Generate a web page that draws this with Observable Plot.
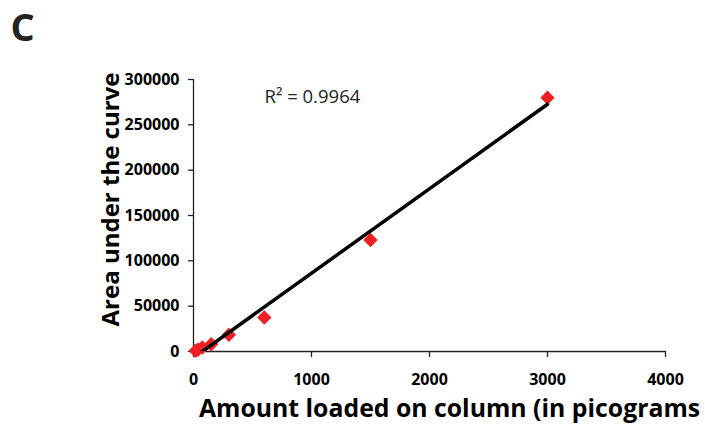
<!DOCTYPE html>
<html><head><meta charset="utf-8">
<script src="https://cdn.jsdelivr.net/npm/d3@7"></script>
<script src="https://cdn.jsdelivr.net/npm/@observablehq/plot@0.6"></script>
<style>body{margin:0;background:#fff} #chart{width:705px;height:434px}</style>
</head><body><div id="chart"></div>
<script>
const amounts = [18.75, 37.5, 75, 150, 300, 600, 1500, 3000];
const areas = [800, 2000, 4500, 8000, 18500, 37500, 123000, 280000];
const xTicks = [0, 1000, 2000, 3000, 4000];
const yTicks = [0, 50000, 100000, 150000, 200000, 250000, 300000];
const panelLabel = "C";
const xLabel = "Amount loaded on column (in picograms";
const yLabel = "Area under the curve";
const r2Label = "R\u00B2 = 0.9964";

const data = amounts.map((x, i) => ({x, y: areas[i]}));
const font = "'Open Sans', sans-serif";

const chart = Plot.plot({
  width: 705, height: 434,
  marginLeft: 193, marginRight: 40, marginTop: 79, marginBottom: 83,
  style: {fontFamily: font, fontSize: "16px", background: "#fff", color: "#000", overflow: "visible"},
  x: {domain: [0, 4000]},
  y: {domain: [0, 300000]},
  marks: [
    Plot.axisX(xTicks, {tickSize: 6, tickPadding: 16, tickFormat: d => String(d), fontSize: 16, fontWeight: "bold", label: null, stroke: "#222", strokeWidth: 1.3, fill: "#000"}),
    Plot.axisY(yTicks, {tickSize: 5, tickPadding: 9, tickFormat: d => String(d), fontSize: 16, fontWeight: "bold", label: null, stroke: "#222", strokeWidth: 1.3, fill: "#000"}),
    Plot.ruleY([0], {stroke: "#222", strokeWidth: 1.3}),
    Plot.ruleX([0], {stroke: "#222", strokeWidth: 1.3}),
    Plot.dot(data, {x: "x", y: "y", symbol: "diamond2", r: 6.5, fill: "#ed2024", stroke: null}),
    Plot.linearRegressionY(data, {x: "x", y: "y", ci: 0, stroke: "#000", strokeWidth: 3.5, clip: true}),
    Plot.text([r2Label], {text: d => d, frameAnchor: "top-left", dx: 71, dy: 18, textAnchor: "start", lineAnchor: "middle", fontSize: 18.5, fill: "#222"}),
    Plot.text([yLabel], {text: d => d, frameAnchor: "left", rotate: -90, dx: -82, dy: -16, textAnchor: "middle", fontSize: 24, fontWeight: "bold", fill: "#000"}),
    Plot.text([xLabel], {text: d => d, frameAnchor: "bottom", dx: 20, dy: 65, textAnchor: "middle", fontSize: 24.8, fontWeight: "bold", fill: "#000"}),
    Plot.text([panelLabel], {text: d => d, frameAnchor: "top-left", dx: -183, dy: -65, textAnchor: "start", lineAnchor: "top", fontSize: 38, fontWeight: "bold", fill: "#222"})
  ]
});
document.getElementById("chart").append(chart);
</script>
</body></html>
